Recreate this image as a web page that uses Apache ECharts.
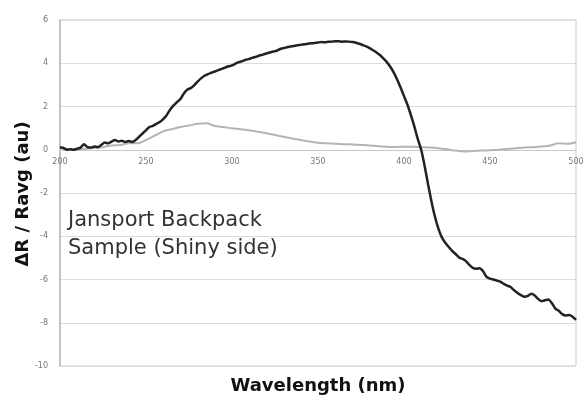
<!DOCTYPE html>
<html>
<head>
<meta charset="utf-8">
<script src="https://cdn.jsdelivr.net/npm/echarts@6/dist/echarts.min.js"></script>
<style>
  html, body { margin: 0; padding: 0; background: #fff; }
  #chart { width: 588px; height: 402px; }
</style>
</head>
<body>
<div id="chart"></div>
<script>
// Wavelength sampling (nm) for the dark trace
const darkWavelength = [
  200, 202, 204, 206, 208, 210, 212, 214, 216, 218, 220, 222, 224, 226, 228, 230,
  232, 234, 236, 238, 240, 242, 244, 246, 248, 250, 252, 254, 256, 258, 260, 262,
  264, 266, 268, 270, 272, 274, 276, 278, 280, 282, 284, 286, 288, 290, 292, 294,
  296, 298, 300, 302, 304, 306, 308, 310, 312, 314, 316, 318, 320, 322, 324, 326,
  328, 330, 332, 334, 336, 338, 340, 342, 344, 346, 348, 350, 352, 354, 356, 358,
  360, 362, 364, 366, 368, 370, 372, 374, 376, 378, 380, 382, 384, 386, 388, 390,
  392, 394, 396, 398, 400, 402, 404, 406, 408, 410, 412, 414, 416, 418, 420, 422,
  424, 426, 428, 430, 432, 434, 436, 438, 440, 442, 444, 446, 448, 450, 452, 454,
  456, 458, 460, 462, 464, 466, 468, 470, 472, 474, 476, 478, 480, 482, 484, 486,
  488, 490, 492, 494, 496, 498, 500
];
// ΔR / Ravg for the shiny side sample
const darkValues = [
  0.12, 0.08, 0.0, 0.02, 0.0, 0.05, 0.1, 0.25, 0.12, 0.1, 0.15, 0.12, 0.22, 0.33, 0.3, 0.38,
  0.45, 0.38, 0.42, 0.36, 0.4, 0.36, 0.45, 0.6, 0.75, 0.9, 1.05, 1.1, 1.2, 1.28, 1.42, 1.6,
  1.85, 2.05, 2.2, 2.35, 2.6, 2.78, 2.85, 2.98, 3.15, 3.3, 3.42, 3.5, 3.56, 3.62, 3.68, 3.74,
  3.8, 3.86, 3.9, 3.98, 4.05, 4.1, 4.16, 4.2, 4.26, 4.3, 4.36, 4.4, 4.45, 4.5, 4.54, 4.58,
  4.66, 4.7, 4.74, 4.77, 4.8, 4.83, 4.85, 4.88, 4.9, 4.92, 4.94, 4.96, 4.98, 4.97, 4.99, 5.0,
  5.02, 5.02, 5.0, 5.01, 5.0, 4.98, 4.95, 4.9, 4.84, 4.78, 4.7, 4.6, 4.5, 4.38, 4.22, 4.05,
  3.84, 3.58, 3.25, 2.88, 2.48, 2.08, 1.6, 1.08, 0.5, 0.0, -0.75, -1.6, -2.4, -3.1, -3.65, -4.05,
  -4.3, -4.5, -4.68, -4.82, -4.98, -5.05, -5.15, -5.32, -5.46, -5.5, -5.48, -5.62, -5.88, -5.96, -6.0, -6.05,
  -6.1, -6.2, -6.28, -6.35, -6.5, -6.62, -6.72, -6.8, -6.76, -6.66, -6.74, -6.9, -7.0, -6.96, -6.92, -7.1,
  -7.35, -7.45, -7.6, -7.66, -7.64, -7.72, -7.87
];

// Wavelength sampling (nm) for the light reference trace
const lightWavelength = [
  200, 205, 210, 215, 220, 225, 230, 235, 240, 245, 250, 255, 260, 265, 270, 275,
  280, 285, 290, 295, 300, 305, 310, 315, 320, 325, 330, 335, 340, 345, 350, 355,
  360, 365, 370, 375, 380, 385, 390, 395, 400, 405, 410, 415, 420, 425, 430, 435,
  440, 445, 450, 455, 460, 465, 470, 475, 480, 485, 490, 495, 500
];
const lightValues = [
  0.1, 0.02, 0.0, 0.05, 0.08, 0.12, 0.2, 0.22, 0.3, 0.3, 0.45, 0.65, 0.85, 0.95, 1.05, 1.12,
  1.2, 1.22, 1.1, 1.05, 0.99, 0.95, 0.9, 0.83, 0.76, 0.68, 0.6, 0.52, 0.45, 0.38, 0.32, 0.3,
  0.28, 0.26, 0.24, 0.22, 0.2, 0.16, 0.14, 0.13, 0.14, 0.14, 0.12, 0.1, 0.07, 0.02, -0.04, -0.08,
  -0.06, -0.04, -0.02, 0.0, 0.04, 0.07, 0.1, 0.12, 0.15, 0.2, 0.3, 0.28, 0.35
];

// Axis ticks
const xTicks = { min: 200, max: 500, step: 50 };
const yTicks = { min: -10, max: 6, step: 2 };

const pairs = (xs, ys) => xs.map((x, i) => [x, ys[i]]);

// Plot box
const W = 588, H = 402;
const gridBox = { left: 60, right: 12, top: 20, bottom: 36 };
// Lift the wavelength axis from the bottom edge up to the ΔR = 0 line
const plotH = H - gridBox.top - gridBox.bottom;
const zeroLift = plotH * (0 - yTicks.min) / (yTicks.max - yTicks.min);

const chart = echarts.init(document.getElementById('chart'), null, { renderer: 'canvas' });

chart.setOption({
  animation: false,
  backgroundColor: '#fff',
  grid: Object.assign({
    show: true, borderColor: '#c8c8c8', borderWidth: 1,
    containLabel: false, outerBoundsMode: 'none'
  }, gridBox),
  xAxis: {
    type: 'value',
    min: xTicks.min, max: xTicks.max, interval: xTicks.step,
    offset: -zeroLift,
    axisLine: { onZero: false, lineStyle: { color: '#c8c8c8', width: 1 } },
    axisTick: { show: false },
    splitLine: { show: false },
    axisLabel: { color: '#777', fontSize: 8, fontFamily: 'DejaVu Sans', margin: 8 }
  },
  yAxis: {
    type: 'value',
    min: yTicks.min, max: yTicks.max, interval: yTicks.step,
    axisLine: { show: true, lineStyle: { color: '#b8b8b8', width: 1.5 } },
    axisTick: { show: false },
    splitLine: { lineStyle: { color: '#dcdcdc', width: 1 } },
    axisLabel: { color: '#777', fontSize: 8, fontFamily: 'DejaVu Sans', margin: 12 }
  },
  graphic: [
    {
      type: 'text', left: 68, top: 207,
      style: {
        text: 'Jansport Backpack\nSample (Shiny side)',
        fill: '#333', fontSize: 21, lineHeight: 28, fontFamily: 'DejaVu Sans'
      }
    },
    {
      // y-axis title, reading bottom to top
      type: 'text', x: 23, y: 194, rotation: Math.PI / 2,
      style: {
        text: 'ΔR / Ravg (au)', fill: '#111', fontSize: 18, fontWeight: 'bold',
        fontFamily: 'DejaVu Sans', align: 'center', verticalAlign: 'middle'
      }
    },
    {
      type: 'text', x: 318, y: 386,
      style: {
        text: 'Wavelength (nm)', fill: '#111', fontSize: 18, fontWeight: 'bold',
        fontFamily: 'DejaVu Sans', align: 'center', verticalAlign: 'middle'
      }
    }
  ],
  series: [
    {
      type: 'line', name: 'Reference', data: pairs(lightWavelength, lightValues),
      showSymbol: false, smooth: 0.3,
      lineStyle: { color: '#b4b4b4', width: 2 }
    },
    {
      type: 'line', name: 'Shiny side', data: pairs(darkWavelength, darkValues),
      showSymbol: false, smooth: 0.2,
      lineStyle: { color: '#222', width: 2.5 }
    }
  ]
});
</script>
</body>
</html>
